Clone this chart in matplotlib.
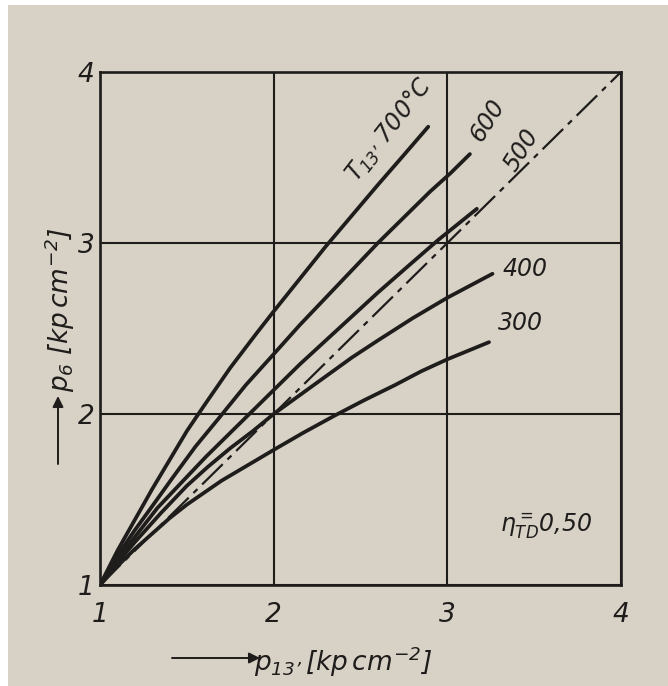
import matplotlib
matplotlib.use("Agg")
import matplotlib.pyplot as plt
from matplotlib.patches import Rectangle

plt.rcParams['font.family'] = ['DejaVu Sans']
plt.rcParams['font.style'] = 'italic'
plt.rcParams['mathtext.fontset'] = 'custom'
plt.rcParams['mathtext.it'] = 'DejaVu Sans:italic'
plt.rcParams['mathtext.rm'] = 'DejaVu Sans:italic'
plt.rcParams['mathtext.default'] = 'it'

# ---- data (p13' -> p6) ----
p13_700 = [1.0, 1.1, 1.2, 1.3, 1.4, 1.5, 1.6, 1.75, 1.9, 2.0, 2.15, 2.3, 2.45, 2.6, 2.75, 2.89]
p6_700 = [1.0, 1.2, 1.38, 1.56, 1.73, 1.9, 2.05, 2.27, 2.47, 2.6, 2.79, 2.98, 3.16, 3.34, 3.515, 3.68]

p13_600 = [1.0, 1.1, 1.2, 1.3, 1.42, 1.55, 1.68, 1.84, 2.0, 2.15, 2.3, 2.45, 2.6, 2.75, 2.9, 3.02, 3.13]
p6_600 = [1.0, 1.17, 1.32, 1.46, 1.63, 1.81, 1.97, 2.17, 2.35, 2.52, 2.68, 2.84, 3.0, 3.15, 3.3, 3.41, 3.52]

p13_500 = [1.0, 1.1, 1.2, 1.33, 1.47, 1.61, 1.75, 1.88, 2.0, 2.15, 2.3, 2.45, 2.6, 2.78, 2.95, 3.06, 3.17]
p6_500 = [1.0, 1.15, 1.28, 1.45, 1.6, 1.75, 1.89, 2.02, 2.14, 2.29, 2.43, 2.57, 2.71, 2.87, 3.02, 3.11, 3.2]

p13_400 = [1.0, 1.1, 1.2, 1.35, 1.5, 1.62, 1.75, 1.88, 2.0, 2.15, 2.3, 2.45, 2.6, 2.8, 3.0, 3.13, 3.26]
p6_400 = [1.0, 1.13, 1.25, 1.42, 1.58, 1.69, 1.8, 1.9, 2.0, 2.11, 2.22, 2.33, 2.43, 2.56, 2.68, 2.75, 2.82]

p13_300 = [1.0, 1.1, 1.2, 1.3, 1.4, 1.5, 1.6, 1.7, 1.8, 1.9, 2.0, 2.17, 2.35, 2.52, 2.7, 2.85, 3.0, 3.12, 3.24]
p6_300 = [1.0, 1.11, 1.21, 1.3, 1.39, 1.47, 1.54, 1.61, 1.67, 1.73, 1.79, 1.89, 1.99, 2.08, 2.17, 2.25, 2.32, 2.37, 2.42]

diag_x = [1.0, 4.0]
diag_y = [1.0, 4.0]

ticks = [1, 2, 3, 4]
tick_labels = ["1", "2", "3", "4"]
curve_labels = ["$T_{13\u2019}$ 700°C", "600", "500", "400", "300"]

BG = '#d8d1c6'
INK = '#1e1d1b'

W, H = 668, 686
fig = plt.figure(figsize=(W / 100, H / 100), dpi=100)
fig.patch.set_facecolor(BG)
fig.add_artist(Rectangle((0, 0), 8 / W, 1, transform=fig.transFigure,
                         facecolor='white', edgecolor='none'))
fig.add_artist(Rectangle((0, 1 - 5 / H), 1, 5 / H, transform=fig.transFigure,
                         facecolor='white', edgecolor='none'))

ax = fig.add_axes([100 / W, 1 - 585 / H, 521 / W, 513 / H])
ax.set_facecolor(BG)
ax.set_xlim(1, 4)
ax.set_ylim(1, 4)
for s in ax.spines.values():
    s.set_linewidth(1.9)
    s.set_color(INK)

ax.set_xticks(ticks)
ax.set_xticklabels(tick_labels)
ax.set_yticks(ticks)
ax.set_yticklabels(tick_labels)
ax.tick_params(length=0, labelsize=19, colors=INK)
ax.tick_params(axis='x', pad=12)
ax.tick_params(axis='y', pad=4)
ax.grid(True, color=INK, lw=1.5)
ax.set_axisbelow(True)

ax.plot(diag_x, diag_y, color=INK, lw=1.6, dashes=(13, 3, 2.5, 3))
for xs, ys in [(p13_700, p6_700), (p13_600, p6_600), (p13_500, p6_500),
               (p13_400, p6_400), (p13_300, p6_300)]:
    ax.plot(xs, ys, color=INK, lw=2.7, solid_capstyle='round',
            solid_joinstyle='round')

ax.text(2.67, 3.66, curve_labels[0], rotation=52, fontsize=17, color=INK,
        ha='center', va='center')
ax.text(3.23, 3.72, curve_labels[1], rotation=58, fontsize=17, color=INK,
        ha='center', va='center')
ax.text(3.43, 3.54, curve_labels[2], rotation=58, fontsize=17, color=INK,
        ha='center', va='center')
ax.text(3.45, 2.85, curve_labels[3], fontsize=17, color=INK,
        ha='center', va='center')
ax.text(3.42, 2.53, curve_labels[4], fontsize=17, color=INK,
        ha='center', va='center')
ax.text(3.57, 1.35, r"$\eta^{=}_{TD}0{,}50$", fontsize=17, color=INK,
        ha='center', va='center')

# axis labels with arrows
ax.annotate('', xy=(260, H - 658), xytext=(172, H - 658),
            xycoords='figure pixels', textcoords='figure pixels',
            arrowprops=dict(arrowstyle='-|>', lw=1.4, color=INK,
                            mutation_scale=16, shrinkA=0, shrinkB=0))
fig.text(343 / W, 1 - 662 / H, "$p_{13\u2019}\\,[kp\\,cm^{-2}]$", fontsize=19,
         color=INK, ha='center', va='center')

ax.annotate('', xy=(58, H - 396), xytext=(58, H - 464),
            xycoords='figure pixels', textcoords='figure pixels',
            arrowprops=dict(arrowstyle='-|>', lw=1.4, color=INK,
                            mutation_scale=16, shrinkA=0, shrinkB=0))
fig.text(60 / W, 1 - 310 / H, r"$p_6\,\,[kp\,cm^{-2}]$", fontsize=19,
         color=INK, ha='center', va='center', rotation=90)

fig.savefig("out.png", dpi=100, facecolor=BG)
